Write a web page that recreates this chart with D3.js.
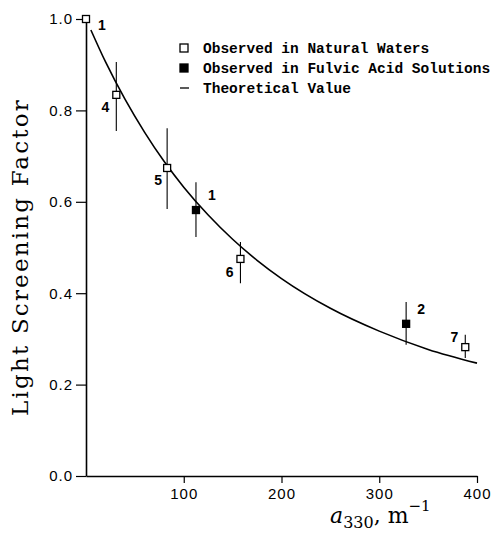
<!DOCTYPE html>
<html>
<head>
<meta charset="utf-8">
<script src="https://cdn.jsdelivr.net/npm/d3@7"></script>
<style>
  body { margin: 0; background: #fff; }
  svg { display: block; }
</style>
</head>
<body>
<div id="chart"></div>
<script>
// natural waters (open squares)
const naturalLabels = ["1", "4", "5", "6", "7"]
const naturalA = [0, 31, 83, 158, 388]
const naturalS = [1.0, 0.834, 0.674, 0.475, 0.282]
const naturalLow = [1.0, 0.755, 0.584, 0.422, 0.258]
const naturalHigh = [1.0, 0.906, 0.761, 0.512, 0.309]

// fulvic acid solutions (filled squares)
const fulvicLabels = ["1", "2"]
const fulvicA = [112.5, 327.5]
const fulvicS = [0.582, 0.333]
const fulvicLow = [0.523, 0.287]
const fulvicHigh = [0.643, 0.381]

// theoretical curve
const curveA = [5, 20, 40, 60, 80, 100, 125, 150, 175, 200, 250, 300, 350, 400]
const curveS = [0.976, 0.906, 0.824, 0.752, 0.688, 0.632, 0.571, 0.518, 0.472, 0.432, 0.367, 0.317, 0.277, 0.247]

const xTicks = [100, 200, 300, 400]
const yTicks = [0, 0.2, 0.4, 0.6, 0.8, 1.0]
const legendItems = ["Observed in Natural Waters", "Observed in Fulvic Acid Solutions", "Theoretical Value"]

const W = 493, H = 535
const MARGIN = { LEFT: 86, RIGHT: 16, TOP: 19, BOTTOM: 59 }

const svg = d3.select("#chart").append("svg")
  .attr("width", W)
  .attr("height", H)

const x = d3.scaleLinear().domain([0, 400]).range([MARGIN.LEFT, W - MARGIN.RIGHT])
const y = d3.scaleLinear().domain([0, 1]).range([H - MARGIN.BOTTOM, MARGIN.TOP])

// Axes
const xAxis = svg.append("g")
  .attr("transform", `translate(0, ${y(0)})`)
  .call(d3.axisBottom(x).tickValues(xTicks).tickSize(7).tickPadding(5).tickSizeOuter(0))
xAxis.selectAll("text")
  .attr("font-family", "Liberation Sans, Arial, sans-serif")
  .attr("font-size", "15px")
  .attr("letter-spacing", "1px")
  .attr("fill", "#000")

const yAxis = svg.append("g")
  .attr("transform", `translate(${x(0)}, 0)`)
  .call(d3.axisLeft(y).tickValues(yTicks).tickFormat(d3.format(".1f")).tickSize(10).tickPadding(3).tickSizeOuter(0))
yAxis.selectAll("text")
  .attr("font-family", "Liberation Sans, Arial, sans-serif")
  .attr("font-size", "15px")
  .attr("letter-spacing", "1px")
  .attr("fill", "#000")

svg.selectAll(".domain").attr("stroke", "#000").attr("stroke-width", 1.6)
svg.selectAll(".tick line").attr("stroke", "#000").attr("stroke-width", 1.2)

// Axis titles
svg.append("text")
  .attr("transform", `translate(28, 257) rotate(-90)`)
  .attr("text-anchor", "middle")
  .attr("font-family", "DejaVu Serif, serif")
  .attr("font-size", "23px")
  .attr("letter-spacing", "2.2px")
  .text("Light Screening Factor")

const xTitle = svg.append("text")
  .attr("x", 330)
  .attr("y", 523)
  .attr("font-family", "DejaVu Serif, serif")
  .attr("font-size", "22px")
xTitle.append("tspan").attr("font-style", "italic").text("a")
xTitle.append("tspan").attr("font-size", "16px").attr("dy", 5).text("330")
xTitle.append("tspan").attr("dy", -5).text(", m")
xTitle.append("tspan").attr("font-size", "15px").attr("dy", -12).text("\u22121")

// Theoretical curve
const curvePts = curveA.map((a, i) => [a, curveS[i]])
svg.append("path")
  .datum(curvePts)
  .attr("fill", "none")
  .attr("stroke", "#000")
  .attr("stroke-width", 1.6)
  .attr("d", d3.line().x(d => x(d[0])).y(d => y(d[1])).curve(d3.curveMonotoneX))

// Points
const natural = naturalA.map((a, i) => ({ a, s: naturalS[i], lo: naturalLow[i], hi: naturalHigh[i], label: naturalLabels[i], filled: false }))
const fulvic = fulvicA.map((a, i) => ({ a, s: fulvicS[i], lo: fulvicLow[i], hi: fulvicHigh[i], label: fulvicLabels[i], filled: true }))
const points = natural.concat(fulvic)

svg.selectAll(".err")
  .data(points.filter(d => d.hi > d.lo))
  .enter().append("line")
  .attr("x1", d => x(d.a)).attr("x2", d => x(d.a))
  .attr("y1", d => y(d.lo)).attr("y2", d => y(d.hi))
  .attr("stroke", "#000")
  .attr("stroke-width", 1.1)

const SZ = 7
svg.selectAll(".pt")
  .data(points)
  .enter().append("rect")
  .attr("x", d => x(d.a) - SZ / 2)
  .attr("y", d => y(d.s) - SZ / 2)
  .attr("width", SZ).attr("height", SZ)
  .attr("fill", d => d.filled ? "#000" : "#fff")
  .attr("stroke", "#000")
  .attr("stroke-width", 1.3)

// label offsets in the same order as points: [dx, dy, anchor]
const labelOffsets = [
  [12, 11, "start"], [-7, 17, "end"], [-5, 17, "end"], [-7, 18, "end"], [-7, -5, "end"],
  [12, -10, "start"], [11, -10, "start"]
]
svg.selectAll(".lbl")
  .data(points)
  .enter().append("text")
  .attr("x", (d, i) => x(d.a) + labelOffsets[i][0])
  .attr("y", (d, i) => y(d.s) + labelOffsets[i][1])
  .attr("text-anchor", (d, i) => labelOffsets[i][2])
  .attr("font-family", "Liberation Sans, Arial, sans-serif")
  .attr("font-weight", "bold")
  .attr("font-size", "14px")
  .text(d => d.label)

// Legend
const legend = svg.append("g").attr("transform", "translate(184, 48)")
legendItems.forEach((t, i) => {
  const row = legend.append("g").attr("transform", `translate(0, ${i * 20})`)
  if (i < 2) {
    row.append("rect")
      .attr("x", -4).attr("y", -4).attr("width", 8).attr("height", 8)
      .attr("fill", i === 1 ? "#000" : "#fff")
      .attr("stroke", "#000").attr("stroke-width", 1.3)
  } else {
    row.append("line").attr("x1", -4).attr("x2", 5).attr("y1", 0).attr("y2", 0)
      .attr("stroke", "#000").attr("stroke-width", 1.3)
  }
  row.append("text")
    .attr("x", 19).attr("y", 5)
    .attr("font-family", "Liberation Mono, Courier New, monospace")
    .attr("font-weight", "bold")
    .attr("font-size", "14.5px")
    .text(t)
})
</script>
</body>
</html>
